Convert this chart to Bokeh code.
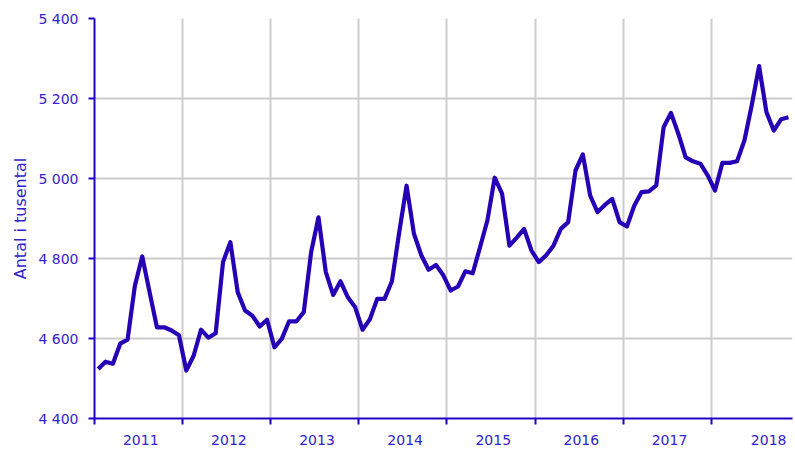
from bokeh.plotting import figure
from bokeh.models import Range1d, FixedTicker, ColumnDataSource
from bokeh.embed import file_html
from bokeh.resources import INLINE

# Monthly values, Jan 2011 - Nov 2018 (Antal i tusental)
v2011 = [4524, 4542, 4537, 4587, 4597, 4732, 4805, 4716, 4628, 4628, 4620, 4608]
v2012 = [4520, 4557, 4622, 4602, 4613, 4791, 4841, 4716, 4670, 4657, 4630, 4647]
v2013 = [4578, 4599, 4643, 4643, 4666, 4816, 4903, 4766, 4709, 4743, 4703, 4678]
v2014 = [4622, 4648, 4699, 4699, 4743, 4866, 4982, 4862, 4808, 4772, 4784, 4758]
v2015 = [4720, 4730, 4768, 4763, 4828, 4895, 5002, 4962, 4832, 4852, 4874, 4820]
v2016 = [4791, 4808, 4832, 4874, 4891, 5020, 5060, 4957, 4916, 4934, 4949, 4891]
v2017 = [4880, 4932, 4966, 4968, 4983, 5128, 5164, 5112, 5053, 5043, 5037, 5008]
v2018 = [4970, 5039, 5039, 5043, 5095, 5183, 5281, 5166, 5120, 5148, 5153]

years = ["2011", "2012", "2013", "2014", "2015", "2016", "2017", "2018"]
y_ticks = [4400, 4600, 4800, 5000, 5200, 5400]

values = v2011 + v2012 + v2013 + v2014 + v2015 + v2016 + v2017 + v2018
month_index = list(range(len(values)))

LINE = "#2600B4"
TEXT = "#3322CC"
AXIS = "#2200C8"
GRID = "#CCCCCC"
FONT = "DejaVu Sans"

p = figure(width=795, height=451, output_backend="svg", toolbar_location=None,
           x_range=Range1d(-0.5, 94.55), y_range=Range1d(4400, 5400),
           min_border_left=94, min_border_right=3, min_border_top=18, min_border_bottom=33)
p.outline_line_color = None

src = ColumnDataSource(dict(x=month_index, y=values))
p.line("x", "y", source=src, line_color=LINE, line_width=4.2, line_join="round")

# x axis: year boundaries as minor ticks/grid, labels at year centers
boundaries = [-0.5 + 12 * k for k in range(len(years))]
label_pos = [5.8 + 12 * k for k in range(len(years) - 1)] + [91.3]
p.xaxis.ticker = FixedTicker(ticks=label_pos, minor_ticks=boundaries)
p.xaxis.major_label_overrides = {pos: yr for pos, yr in zip(label_pos, years)}
p.xaxis.major_tick_out = 0
p.xaxis.major_tick_in = 0
p.xaxis.minor_tick_out = 6
p.xaxis.minor_tick_in = 0
p.xaxis.minor_tick_line_color = AXIS
p.xaxis.minor_tick_line_width = 2
p.xaxis.axis_line_color = AXIS
p.xaxis.axis_line_width = 2
p.xaxis.major_label_standoff = 10
p.xaxis.major_label_text_color = TEXT
p.xaxis.major_label_text_font = FONT
p.xaxis.major_label_text_font_size = "14px"

p.xgrid.grid_line_color = None
p.xgrid.minor_grid_line_color = GRID
p.xgrid.minor_grid_line_width = 2

# y axis
p.yaxis.ticker = FixedTicker(ticks=y_ticks)
p.yaxis.major_label_overrides = {t: f"{t:,}".replace(",", " ") for t in y_ticks}
p.yaxis.major_tick_out = 6
p.yaxis.major_tick_in = 0
p.yaxis.minor_tick_line_color = None
p.yaxis.major_tick_line_color = AXIS
p.yaxis.major_tick_line_width = 2
p.yaxis.axis_line_color = AXIS
p.yaxis.axis_line_width = 2
p.yaxis.major_label_standoff = 10
p.yaxis.major_label_text_color = TEXT
p.yaxis.major_label_text_font = FONT
p.yaxis.major_label_text_font_size = "14px"
p.yaxis.axis_label = "Antal i tusental"
p.yaxis.axis_label_text_color = TEXT
p.yaxis.axis_label_text_font = FONT
p.yaxis.axis_label_text_font_size = "16px"
p.yaxis.axis_label_text_font_style = "normal"
p.yaxis.axis_label_standoff = 5

p.ygrid.grid_line_color = GRID
p.ygrid.grid_line_width = 2

open("out.html", "w").write(file_html(p, INLINE))
